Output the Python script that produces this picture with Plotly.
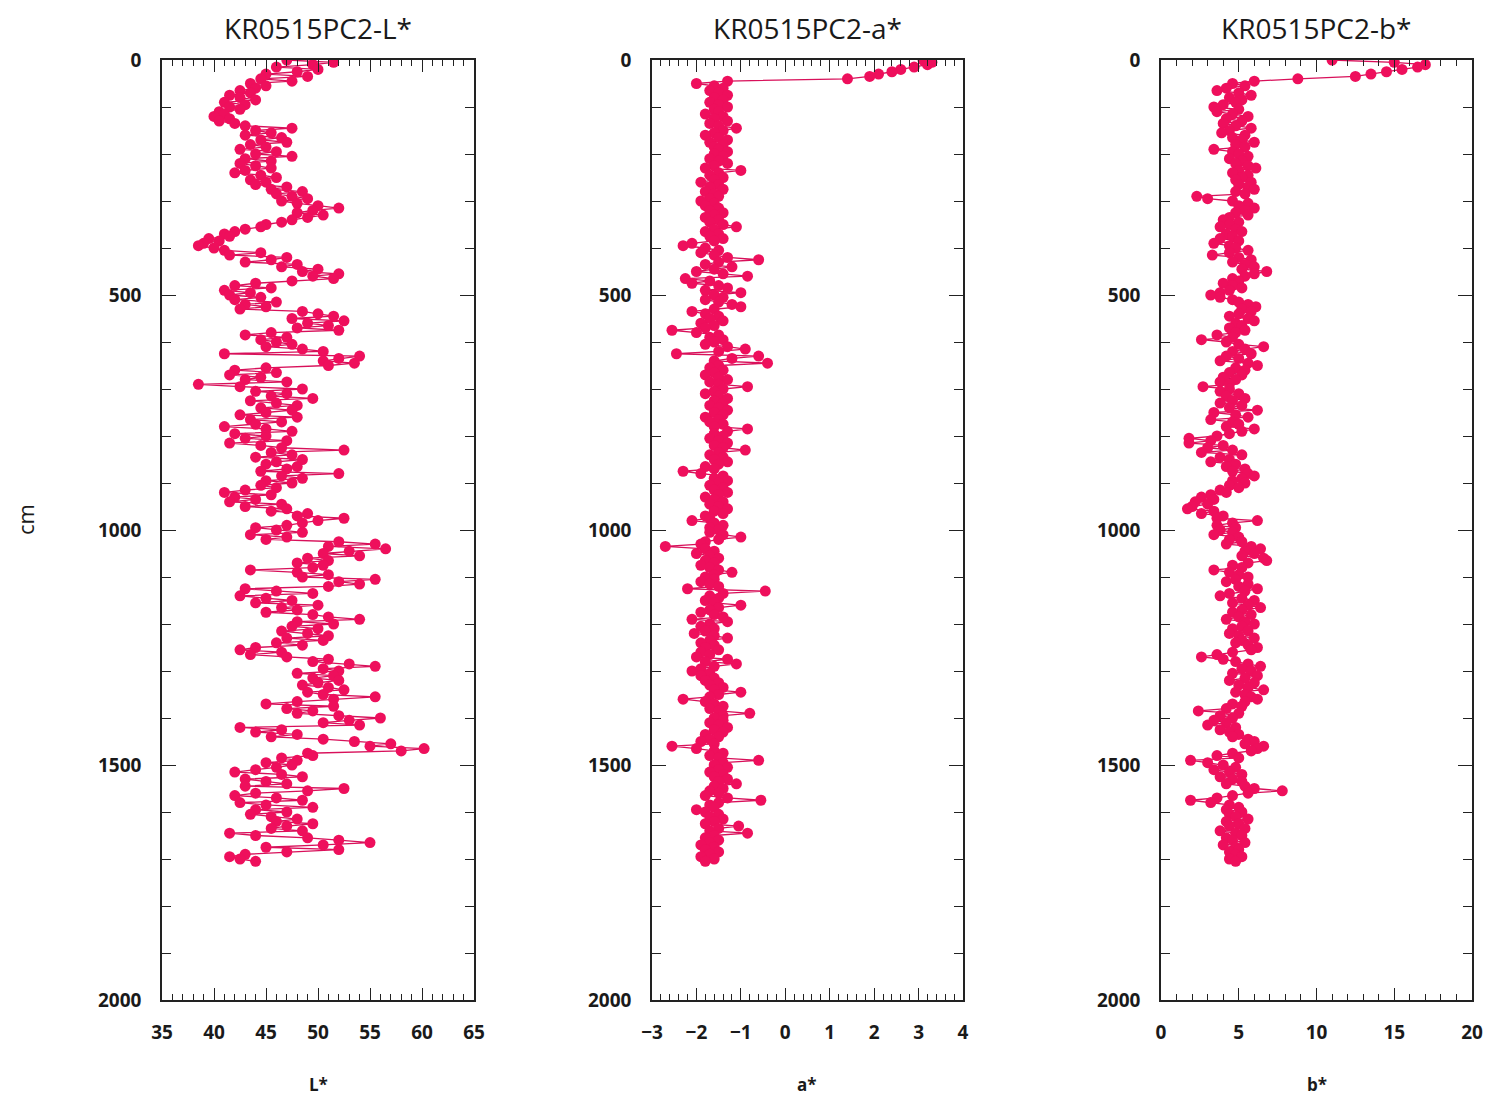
import plotly.graph_objects as go

# ---------------- data (depth in cm, one sample every 5 cm) ----------------
depth = [
    0, 5, 10, 15, 20, 25, 30, 35, 40, 45, 50, 55, 60, 65, 70, 75, 80, 85, 90, 95,
    100, 105, 110, 115, 120, 125, 130, 135, 140, 145, 150, 155, 160, 165, 170, 175, 180, 185, 190, 195,
    200, 205, 210, 215, 220, 225, 230, 235, 240, 245, 250, 255, 260, 265, 270, 275, 280, 285, 290, 295,
    300, 305, 310, 315, 320, 325, 330, 335, 340, 345, 350, 355, 360, 365, 370, 375, 380, 385, 390, 395,
    400, 405, 410, 415, 420, 425, 430, 435, 440, 445, 450, 455, 460, 465, 470, 475, 480, 485, 490, 495,
    500, 505, 510, 515, 520, 525, 530, 535, 540, 545, 550, 555, 560, 565, 570, 575, 580, 585, 590, 595,
    600, 605, 610, 615, 620, 625, 630, 635, 640, 645, 650, 655, 660, 665, 670, 675, 680, 685, 690, 695,
    700, 705, 710, 715, 720, 725, 730, 735, 740, 745, 750, 755, 760, 765, 770, 775, 780, 785, 790, 795,
    800, 805, 810, 815, 820, 825, 830, 835, 840, 845, 850, 855, 860, 865, 870, 875, 880, 885, 890, 895,
    900, 905, 910, 915, 920, 925, 930, 935, 940, 945, 950, 955, 960, 965, 970, 975, 980, 985, 990, 995,
    1000, 1005, 1010, 1015, 1020, 1025, 1030, 1035, 1040, 1045, 1050, 1055, 1060, 1065, 1070, 1075, 1080, 1085, 1090, 1095,
    1100, 1105, 1110, 1115, 1120, 1125, 1130, 1135, 1140, 1145, 1150, 1155, 1160, 1165, 1170, 1175, 1180, 1185, 1190, 1195,
    1200, 1205, 1210, 1215, 1220, 1225, 1230, 1235, 1240, 1245, 1250, 1255, 1260, 1265, 1270, 1275, 1280, 1285, 1290, 1295,
    1300, 1305, 1310, 1315, 1320, 1325, 1330, 1335, 1340, 1345, 1350, 1355, 1360, 1365, 1370, 1375, 1380, 1385, 1390, 1395,
    1400, 1405, 1410, 1415, 1420, 1425, 1430, 1435, 1440, 1445, 1450, 1455, 1460, 1465, 1470, 1475, 1480, 1485, 1490, 1495,
    1500, 1505, 1510, 1515, 1520, 1525, 1530, 1535, 1540, 1545, 1550, 1555, 1560, 1565, 1570, 1575, 1580, 1585, 1590, 1595,
    1600, 1605, 1610, 1615, 1620, 1625, 1630, 1635, 1640, 1645, 1650, 1655, 1660, 1665, 1670, 1675, 1680, 1685, 1690, 1695,
    1700, 1705,
]

L_star = [
    47, 51.5, 49.5, 46, 50, 48, 45, 49, 44.5, 47.5, 43.5, 45, 44, 42.5, 43.5, 41.5, 42.5, 44, 41, 43,
    41.5, 42.5, 40.5, 41, 40, 41.5, 40.5, 42, 43, 47.5, 44, 45.5, 43, 46.5, 44.5, 47, 43.5, 45, 42.5, 46,
    44, 47.5, 43, 45.5, 42.5, 44, 45.5, 43, 42, 44.5, 46, 43.5, 45, 44, 47, 45.5, 48.5, 46, 47.5, 49,
    46.5, 48, 50, 52, 49.5, 48, 50.5, 49, 47.5, 46.5, 45, 44.5, 43, 42, 41, 41.5, 39.5, 40.5, 39, 38.5,
    40, 41, 44.5, 41.5, 47, 45.5, 43, 48, 46.5, 50, 48.5, 52, 49.5, 51.5, 47.5, 44, 42, 45.5, 41, 43.5,
    41.5, 44.5, 42, 46, 43, 45, 42.5, 48.5, 50, 51.5, 47.5, 52.5, 49, 51, 48, 52, 45.5, 43, 47, 44.5,
    46, 47.5, 45, 48.5, 50.5, 41, 54, 52, 50.5, 53.5, 51, 45, 42, 46, 41.5, 44.5, 43, 47, 38.5, 42.5,
    48.5, 44, 47, 45.5, 49.5, 43.5, 46, 48, 44.5, 47.5, 45, 42.5, 48, 43.5, 46.5, 44, 41, 45, 47.5, 42,
    45, 43, 47, 41.5, 44.5, 46.5, 52.5, 45.5, 47.5, 44, 48.5, 46, 45, 48, 47, 44.5, 52, 46.5, 48.5, 45,
    47.5, 44.5, 46, 43, 41, 45.5, 42, 44, 41.5, 46.5, 43, 47, 45.5, 49, 48, 52.5, 50, 48.5, 47, 44,
    46, 48.5, 43.5, 47, 45, 52, 55.5, 51, 56.5, 53, 50.5, 54, 49, 51, 48, 50.5, 49.5, 43.5, 48, 51,
    48.5, 55.5, 52, 54, 51, 43, 46, 49.5, 42.5, 45, 47.5, 44, 50, 46.5, 48, 45, 49.5, 51, 54, 48,
    51.5, 47.5, 50, 46.5, 49, 51, 47, 50.5, 46, 48.5, 44, 42.5, 46.5, 43.5, 47, 51, 49.5, 53, 55.5, 50.5,
    52, 48, 51.5, 49.5, 52, 50, 48.5, 51, 52.5, 49, 50.5, 55.5, 51.5, 48, 45, 51.5, 47, 49.5, 48, 52,
    56, 53, 50.5, 54, 42.5, 46.5, 44, 48, 45.5, 50.5, 53.5, 57, 55, 60.2, 58, 49, 49.5, 46.5, 48, 45,
    47.5, 46, 44, 42, 46.5, 48.5, 43, 45, 47, 43, 52.5, 49, 44, 42, 46, 48.5, 42.5, 45, 49.5, 44,
    47, 43.5, 45.5, 48, 46, 49.5, 47, 45.5, 48.5, 41.5, 44, 49, 52, 55, 50.5, 45, 52, 47, 43, 41.5,
    42.5, 44,
]

a_star = [
    3.1, 3.3, 3.2, 2.9, 2.6, 2.4, 2.1, 1.9, 1.4, -1.3, -2.0, -1.6, -1.4, -1.7, -1.5, -1.3, -1.6, -1.4, -1.7, -1.5,
    -1.3, -1.6, -1.5, -1.8, -1.4, -1.6, -1.3, -1.7, -1.5, -1.1, -1.4, -1.6, -1.8, -1.5, -1.3, -1.7, -1.4, -1.6, -1.5, -1.3,
    -1.6, -1.4, -1.7, -1.5, -1.3, -1.6, -1.8, -1.0, -1.5, -1.7, -1.4, -1.6, -1.9, -1.5, -1.7, -1.4, -1.8, -1.6, -1.5, -1.7,
    -1.9, -1.6, -1.8, -1.5, -1.7, -1.4, -1.6, -1.8, -1.5, -1.7, -1.4, -1.1, -1.6, -1.8, -1.5, -1.7, -1.4, -1.6, -2.1, -2.3,
    -1.8, -1.5, -1.9, -1.6, -1.3, -0.6, -1.5, -1.8, -1.2, -1.6, -2.0, -1.4, -0.85, -2.25, -1.7, -2.1, -1.5, -1.3, -1.8, -1.0,
    -1.6, -1.4, -1.8, -1.5, -1.2, -1.0, -1.6, -2.1, -1.8, -1.5, -1.7, -1.4, -1.9, -1.6, -1.8, -2.55, -2.0, -1.5, -1.7, -1.4,
    -1.6, -1.8, -1.3, -0.9, -1.5, -2.45, -0.6, -1.2, -1.6, -0.4, -1.5, -1.7, -1.4, -1.6, -1.8, -1.5, -1.3, -1.7, -1.5, -0.85,
    -1.4, -1.6, -1.8, -1.5, -1.3, -1.6, -1.4, -1.7, -1.5, -1.3, -1.6, -1.4, -1.8, -1.5, -1.7, -1.4, -1.6, -0.85, -1.3, -1.6,
    -1.4, -1.7, -1.5, -1.3, -1.6, -1.4, -0.9, -1.5, -1.7, -1.4, -1.6, -1.3, -1.5, -1.8, -1.6, -2.3, -1.9, -1.4, -1.6, -1.3,
    -1.5, -1.7, -1.4, -1.6, -1.3, -1.5, -1.8, -1.6, -1.4, -1.7, -1.5, -1.3, -1.6, -1.4, -1.8, -1.7, -2.1, -1.6, -1.4, -1.7,
    -1.5, -1.7, -1.4, -1.0, -1.5, -1.8, -1.9, -2.7, -1.8, -1.6, -2.0, -1.7, -1.5, -1.8, -1.6, -1.9, -1.7, -1.5, -1.2, -1.6,
    -1.8, -1.6, -1.9, -1.7, -1.5, -2.2, -0.45, -1.4, -1.7, -1.5, -1.8, -1.6, -1.0, -1.5, -1.7, -1.9, -1.6, -1.4, -2.1, -1.3,
    -1.7, -1.9, -1.6, -1.8, -2.05, -1.6, -1.3, -1.7, -1.9, -1.6, -1.8, -1.5, -1.9, -1.7, -2.0, -1.3, -1.8, -1.1, -1.6, -1.9,
    -2.1, -1.7, -1.9, -1.6, -1.8, -1.5, -1.7, -1.4, -1.6, -1.0, -1.5, -1.7, -2.3, -1.8, -1.6, -1.4, -1.7, -1.5, -0.8, -1.4,
    -1.6, -1.4, -1.7, -1.5, -1.3, -1.6, -1.4, -1.8, -1.5, -1.7, -1.9, -1.6, -2.55, -2.0, -1.6, -1.4, -1.7, -1.5, -0.6, -1.4,
    -1.6, -1.3, -1.5, -1.7, -1.4, -1.6, -1.3, -1.5, -1.1, -1.6, -1.4, -1.7, -1.5, -1.8, -1.3, -0.55, -1.5, -1.7, -1.6, -2.0,
    -1.8, -1.5, -1.7, -1.4, -1.6, -1.8, -1.05, -1.5, -1.7, -0.85, -1.6, -1.8, -1.5, -1.7, -1.9, -1.6, -1.8, -1.5, -1.7, -1.9,
    -1.6, -1.8,
]

b_star = [
    11, 15, 17, 16.5, 15.5, 14.5, 13.5, 12.5, 8.8, 6.0, 4.6, 5.4, 4.2, 3.6, 5.0, 5.8, 4.4, 5.2, 4.8, 4.0,
    3.4, 5.0, 3.6, 4.6, 5.6, 4.2, 5.2, 4.0, 4.8, 5.8, 4.4, 3.9, 5.4, 4.6, 5.2, 6.0, 4.8, 5.4, 3.4, 4.6,
    5.0, 5.6, 4.4, 5.2, 4.8, 5.6, 6.1, 5.0, 4.6, 5.6, 5.2, 4.8, 5.8, 5.0, 5.6, 6.0, 4.8, 5.4, 2.3, 3.0,
    4.6, 5.6, 5.0, 6.0, 5.4, 4.8, 5.6, 4.4, 4.0, 5.0, 4.4, 3.8, 4.8, 5.2, 4.2, 4.6, 3.8, 5.0, 3.4, 4.4,
    4.8, 5.6, 4.4, 3.3, 5.0, 5.8, 4.6, 5.4, 6.0, 5.2, 6.8, 6.0, 5.4, 4.6, 5.0, 4.0, 4.6, 5.2, 4.4, 3.8,
    3.2, 3.8, 4.6, 5.0, 5.6, 6.1, 5.2, 5.8, 5.0, 4.4, 5.6, 6.0, 4.8, 5.2, 4.4, 5.4, 4.8, 3.6, 4.6, 2.6,
    4.2, 5.0, 6.6, 5.4, 4.6, 5.8, 4.2, 5.0, 3.8, 5.6, 6.2, 4.8, 5.4, 4.4, 5.2, 4.0, 4.8, 3.8, 4.4, 2.7,
    4.4, 3.8, 5.0, 4.2, 5.4, 4.6, 3.8, 5.2, 4.4, 6.2, 3.4, 4.8, 5.6, 3.2, 4.6, 5.0, 4.2, 6.0, 5.2, 4.4,
    3.6, 1.8, 3.2, 1.8, 4.0, 3.0, 4.6, 2.6, 5.2, 3.8, 4.4, 3.2, 4.8, 4.2, 5.4, 4.6, 5.6, 6.0, 5.2, 4.6,
    5.4, 4.4, 5.0, 3.8, 4.2, 3.2, 2.6, 3.4, 2.2, 3.0, 2.0, 1.7, 3.4, 2.6, 4.0, 3.6, 6.2, 4.6, 3.6, 4.8,
    3.8, 4.6, 3.4, 5.0, 4.4, 5.2, 4.2, 5.8, 6.4, 5.4, 6.0, 5.2, 6.6, 6.8, 5.6, 4.6, 5.2, 3.4, 4.4, 5.0,
    5.6, 4.8, 4.2, 5.6, 5.0, 6.2, 5.4, 4.4, 3.8, 5.2, 6.0, 4.6, 5.6, 6.4, 5.2, 4.6, 5.8, 5.0, 4.2, 5.4,
    6.0, 5.2, 4.6, 5.6, 4.4, 5.0, 6.0, 5.2, 4.8, 5.6, 6.2, 5.8, 4.6, 3.6, 2.6, 4.0, 4.8, 5.6, 6.4, 5.2,
    5.8, 4.6, 6.2, 5.4, 4.4, 6.0, 5.0, 5.6, 6.6, 4.8, 5.4, 5.8, 6.2, 5.4, 4.6, 5.2, 4.2, 2.4, 5.0, 3.8,
    4.6, 3.4, 4.2, 3.0, 4.8, 3.8, 4.4, 5.0, 4.6, 5.6, 6.0, 5.4, 6.6, 6.2, 5.8, 4.6, 3.6, 5.0, 1.9, 3.0,
    4.0, 4.8, 3.4, 4.4, 5.2, 3.8, 4.6, 5.2, 4.2, 5.4, 6.0, 7.8, 5.6, 4.6, 3.6, 1.9, 3.2, 4.4, 5.0, 4.2,
    5.2, 4.4, 4.8, 5.6, 4.2, 5.0, 4.4, 5.4, 3.8, 4.8, 5.2, 4.2, 4.6, 5.4, 4.0, 4.8, 5.0, 4.4, 4.8, 5.2,
    4.4, 4.8,
]

titles = ["KR0515PC2-L*", "KR0515PC2-a*", "KR0515PC2-b*"]
x_labels = ["L*", "a*", "b*"]
x_ranges = [[35, 65], [-3, 4], [0, 20]]
x_dticks = [5, 1, 5]
x_minor = [1, 0.2, 1]
y_ticks = [0, 500, 1000, 1500, 2000]

# ---------------- layout ----------------
# The page body has an 8 px default margin, so the figure is 16 px smaller
# than the window and all screen positions are shifted by 8 px.
OFF = 8
W, H = 1493 - 2 * OFF, 1105 - 2 * OFF


def px_x(x):
    return (x - OFF) / W


def px_y(y):
    return 1 - (y - OFF) / H


panels_px = [(162, 474), (652, 963), (1161, 1472)]
y_top_px, y_bot_px = 60, 1000
ydom = [px_y(y_bot_px), px_y(y_top_px)]

COLOR = "#EE0F5C"
LINE = "#D8105A"
TXT = "#1a1a1a"
FAM = "Open Sans, Noto Sans, sans-serif"
TICKFONT = dict(family=FAM, size=19, color=TXT, weight="bold")

fig = go.Figure()
series = [L_star, a_star, b_star]
for i, vals in enumerate(series):
    sfx = "" if i == 0 else str(i + 1)
    fig.add_trace(go.Scatter(
        x=vals, y=depth, mode="lines+markers",
        xaxis="x" + sfx, yaxis="y" + sfx,
        line=dict(color=LINE, width=1.3),
        marker=dict(color=COLOR, size=11, line=dict(width=0)),
        showlegend=False, hoverinfo="skip",
    ))

layout = dict(
    width=W, height=H, autosize=False,
    margin=dict(l=0, r=0, t=0, b=0, pad=0),
    paper_bgcolor="white", plot_bgcolor="white",
    showlegend=False,
)
annotations = []
for i, (x0, x1) in enumerate(panels_px):
    sfx = "" if i == 0 else str(i + 1)
    layout["xaxis" + sfx] = dict(
        domain=[px_x(x0), px_x(x1)], range=x_ranges[i], anchor="y" + sfx, automargin=False,
        dtick=x_dticks[i], tick0=0,
        ticks="inside", ticklen=12, tickwidth=1.3, tickcolor="#222",
        minor=dict(ticks="inside", ticklen=6, dtick=x_minor[i], tick0=0,
                   tickwidth=1.1, tickcolor="#222", showgrid=False),
        showline=True, linecolor="#222", linewidth=1.5, mirror="ticks",
        showgrid=False, zeroline=False,
        tickfont=TICKFONT, ticklabelstandoff=14,
        fixedrange=True,
    )
    layout["yaxis" + sfx] = dict(
        domain=ydom, range=[2000, 0], anchor="x" + sfx, automargin=False,
        tickvals=y_ticks, ticktext=[str(v) for v in y_ticks],
        ticks="inside", ticklen=14, tickwidth=1.3, tickcolor="#222",
        minor=dict(ticks="inside", ticklen=9, dtick=100, tick0=0,
                   tickwidth=1.1, tickcolor="#222", showgrid=False),
        showline=True, linecolor="#222", linewidth=1.5, mirror="ticks",
        showgrid=False, zeroline=False,
        tickfont=TICKFONT, ticklabelstandoff=15,
        fixedrange=True,
    )
    cx = px_x((x0 + x1) / 2)
    annotations.append(dict(
        text=titles[i], x=cx, y=px_y(28), xref="paper", yref="paper",
        showarrow=False, xanchor="center", yanchor="middle", borderpad=0,
        font=dict(family=FAM, size=28, color=TXT),
    ))
    annotations.append(dict(
        text=x_labels[i], x=cx, y=px_y(1084), xref="paper", yref="paper",
        showarrow=False, xanchor="center", yanchor="middle", borderpad=0,
        font=dict(family=FAM, size=17, color=TXT, weight="bold"),
    ))
annotations.append(dict(
    text="cm", x=px_x(25), y=px_y(520), xref="paper", yref="paper",
    showarrow=False, xanchor="center", yanchor="middle", textangle=-90,
    font=dict(family=FAM, size=22, color=TXT),
))
layout["annotations"] = annotations
fig.update_layout(**layout)

fig.write_html("out.html")
